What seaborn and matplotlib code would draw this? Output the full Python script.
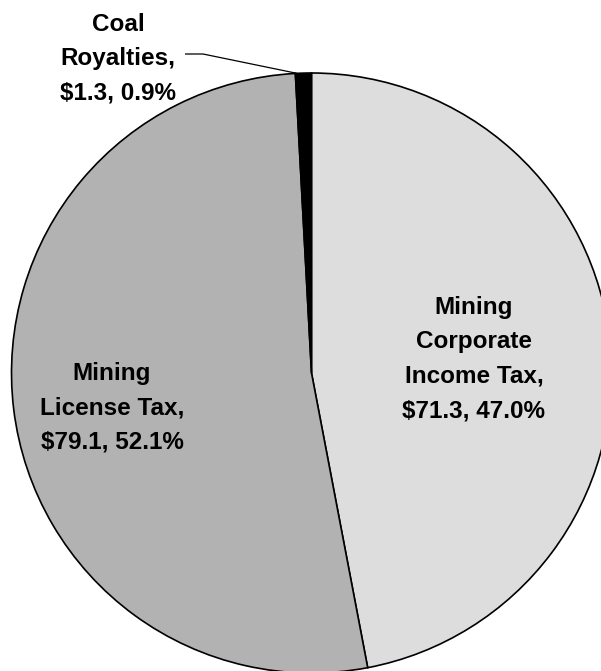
import numpy as np
import matplotlib
matplotlib.use("Agg")
import matplotlib.pyplot as plt
import seaborn as sns

# Mining-related revenue, $ millions
categories = ["Mining\nCorporate\nIncome Tax", "Mining\nLicense Tax", "Coal\nRoyalties"]
revenue = [71.3, 79.1, 1.3]
slice_colors = ["#DDDDDD", "#B2B2B2", "#000000"]

sns.set_theme(style="white")
plt.rcParams["font.family"] = ["Liberation Sans", "DejaVu Sans"]

W, H = 601, 671
fig = plt.figure(figsize=(W / 100, H / 100), dpi=100)
ax = fig.add_axes([0, 0, 1, 1])

cx, cy, radius = 311.5, H - 373, 300
wedges, _ = ax.pie(
    revenue,
    colors=slice_colors,
    startangle=90,
    counterclock=False,
    center=(cx, cy),
    radius=radius,
    frame=True,
    wedgeprops=dict(edgecolor="black", linewidth=1.2),
)
ax.set_xlim(0, W)
ax.set_ylim(0, H)
ax.set_aspect("equal")
ax.axis("off")

total = sum(revenue)
labels = [f"{c},\n${v:.1f}, {v / total * 100:.1f}%" for c, v in zip(categories, revenue)]

# label centres in figure pixels (x right, y down)
label_pos = [(474, 359), (112, 408), (118, 59)]
for text, (px, py) in zip(labels, label_pos):
    ax.text(px, H - py, text, ha="center", va="center", multialignment="center",
            fontsize=17.5, fontweight="bold", color="black", linespacing=1.63)

# leader line from the small coal wedge to its label
w = wedges[2]
theta = np.deg2rad(w.theta1 + 0.9 * (w.theta2 - w.theta1))
ex, ey = cx + radius * np.cos(theta), cy + radius * np.sin(theta)
ax.plot([185, 203, ex], [H - 54, H - 54, ey], color="black", linewidth=0.9,
        solid_capstyle="butt")

fig.savefig("out.png", dpi=100)
